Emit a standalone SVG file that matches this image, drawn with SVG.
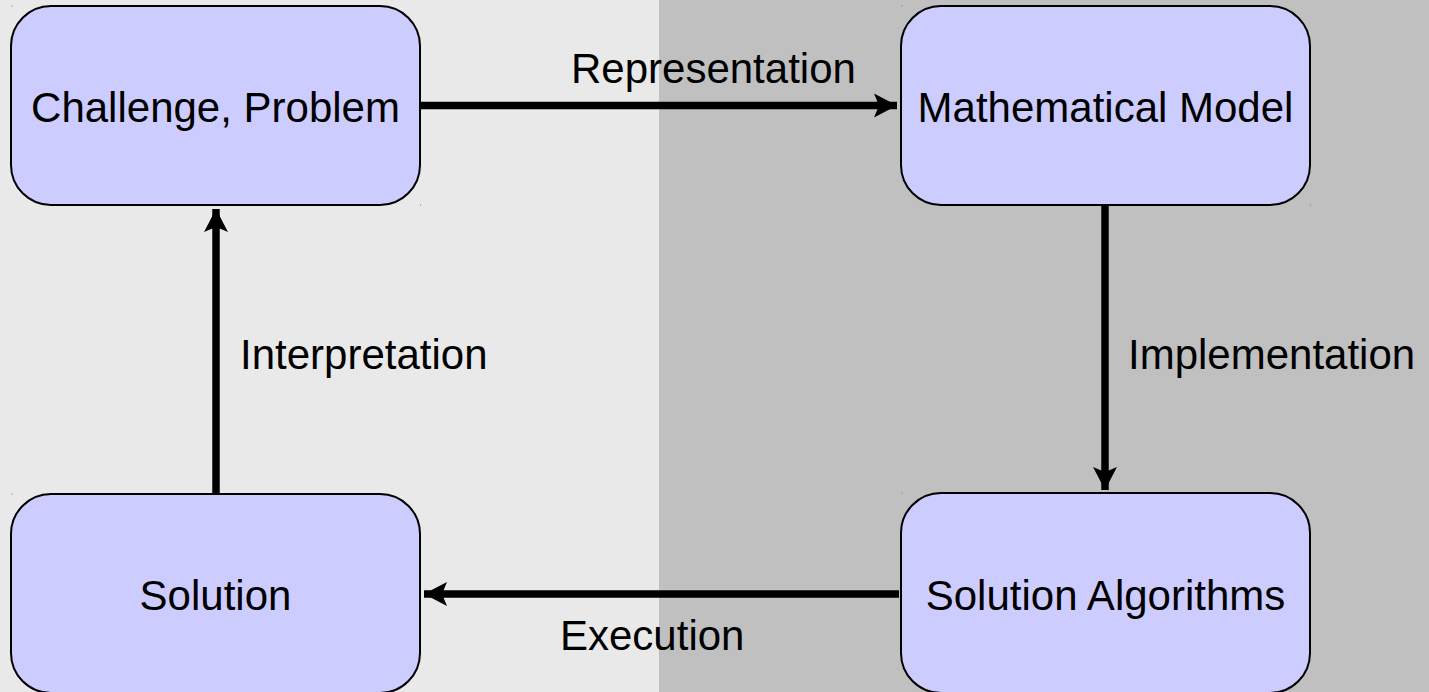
<svg xmlns="http://www.w3.org/2000/svg" width="1429" height="692" viewBox="0 0 1429 692">
  <style>
    .box { fill: #ccccff; stroke: #000; stroke-width: 2; }
    .label { font-family: "Liberation Sans", Arial, sans-serif; font-size: 42px; fill: #000; }
    .mid { text-anchor: middle; }
    .edge { stroke: #000; stroke-width: 7.5; fill: none; }
    .dot { fill: #777; }
  </style>
  <defs>
    <marker id="head" viewBox="-24 -13 26 26" refX="0" refY="0" markerUnits="userSpaceOnUse" markerWidth="26" markerHeight="26" orient="auto">
      <path d="M-23,-12 L0,0 L-23,12 L-18,0 Z" fill="#000"/>
    </marker>
  </defs>

  <!-- two-tone backdrop -->
  <rect x="0" y="0" width="659" height="692" fill="#e9e9e9"/>
  <rect x="659" y="0" width="770" height="692" fill="#c0c0c0"/>

  <g id="connectors">
    <line class="edge" x1="421" y1="105.5" x2="897" y2="105.5" marker-end="url(#head)"/>
    <line class="edge" x1="1105" y1="206" x2="1105" y2="490" marker-end="url(#head)"/>
    <line class="edge" x1="899" y1="594" x2="424" y2="594" marker-end="url(#head)"/>
    <line class="edge" x1="216" y1="493" x2="216" y2="209" marker-end="url(#head)"/>
    <text class="label" x="571" y="83">Representation</text>
    <text class="label" x="1128" y="369">Implementation</text>
    <text class="label" x="560" y="650">Execution</text>
    <text class="label" x="240" y="369">Interpretation</text>
  </g>

  <g id="challenge">
    <rect class="box" x="11" y="6" width="409" height="199" rx="40" ry="40"/>
    <text class="label mid" x="215.5" y="122">Challenge, Problem</text>
    <rect class="dot" x="11.5" y="5.5" width="1" height="1"/>
    <rect class="dot" x="420" y="204.5" width="1" height="1"/>
  </g>

  <g id="model">
    <rect class="box" x="901" y="6" width="409" height="199" rx="40" ry="40"/>
    <text class="label mid" x="1105.5" y="122">Mathematical Model</text>
    <rect class="dot" x="901.5" y="5.5" width="1" height="1"/>
    <rect class="dot" x="1310" y="204.5" width="1" height="1"/>
  </g>

  <g id="algorithms">
    <rect class="box" x="901" y="493" width="409" height="200" rx="40" ry="40"/>
    <text class="label mid" x="1105.5" y="610">Solution Algorithms</text>
    <rect class="dot" x="901.5" y="492.5" width="1" height="1"/>
  </g>

  <g id="solution">
    <rect class="box" x="11" y="494" width="409" height="199" rx="40" ry="40"/>
    <text class="label mid" x="215.5" y="610">Solution</text>
    <rect class="dot" x="11.5" y="493.5" width="1" height="1"/>
  </g>
</svg>
